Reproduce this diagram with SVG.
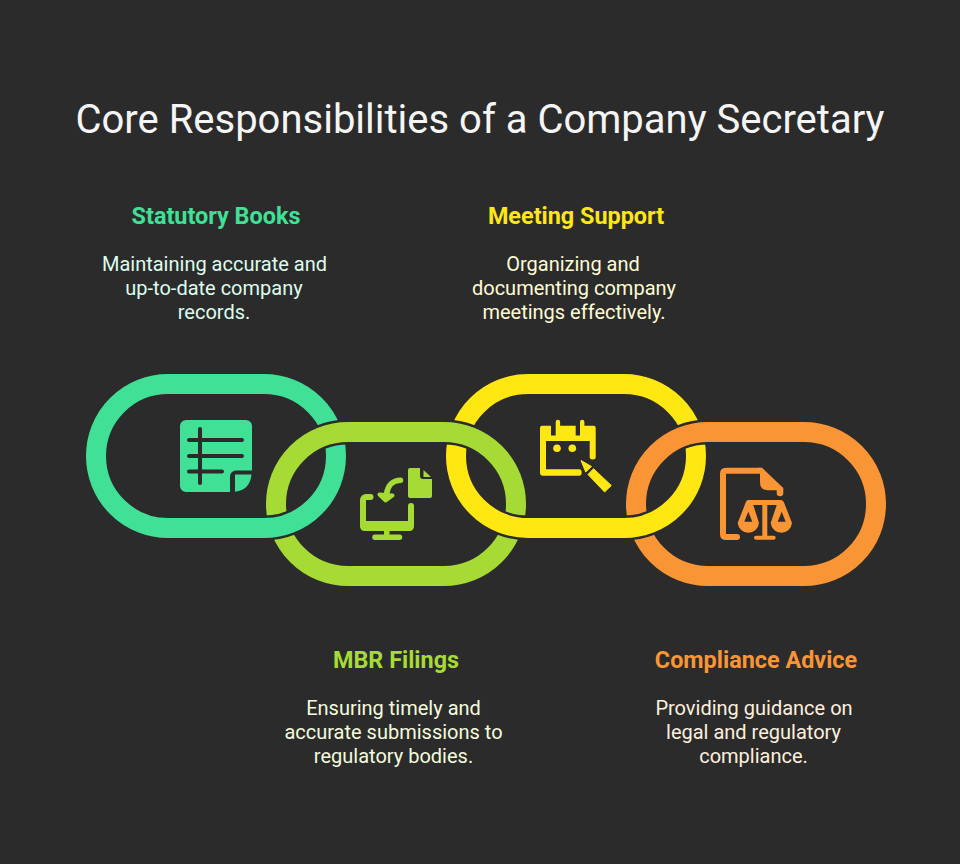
<svg xmlns="http://www.w3.org/2000/svg" width="960" height="864" viewBox="0 0 960 864">
<style>
text{font-family:Roboto,"Liberation Sans",sans-serif;text-anchor:middle}
.title{font-size:40px;font-weight:400;fill:#f5f5f5}
.h{font-size:23.400px;font-weight:700}
.b{font-size:20px;font-weight:400}
.ring{fill:none;stroke-width:20}
.cut{fill:none;stroke:#000;stroke-width:25}
</style>
<defs>
<mask id="maskUpper" maskUnits="userSpaceOnUse" x="0" y="0" width="960" height="864">
<rect width="960" height="864" fill="#fff"/>
<path class="cut" d="M276,504A72,72 0 0 1 348,432H444A72,72 0 0 1 516,504"/>
<path class="cut" d="M636,504A72,72 0 0 1 708,432H804"/>
</mask>
<mask id="maskLower" maskUnits="userSpaceOnUse" x="0" y="0" width="960" height="864">
<rect width="960" height="864" fill="#fff"/>
<path class="cut" d="M336,456A72,72 0 0 1 264,528H200"/>
<path class="cut" d="M456,456A72,72 0 0 0 528,528H624A72,72 0 0 0 696,456"/>
</mask>
</defs>
<rect width="960" height="864" fill="#2b2b2b"/>
<text class="title" x="480" y="133">Core Responsibilities of a Company Secretary</text>
<g id="connectors"></g>
<g id="node-statutory-books">
<rect class="ring" x="96" y="384" width="240" height="144" rx="72" stroke="#41e097" mask="url(#maskUpper)"/>
<path fill="#41e097" d="M186,420H246a6,6 0 0 1 6,6V470.500H236a6,6 0 0 0 -6,6V492H186a6,6 0 0 1 -6,-6V426a6,6 0 0 1 6,-6Z"/>
<path fill="#41e097" d="M235,474.500H251.500Q250,490 235,491.700Z"/>
<path fill="none" stroke="#2b2b2b" stroke-width="4" stroke-linecap="round" d="M189,440H242M189,456H242M189,471.500H222M200,429V483"/>
<text class="h" x="216" y="224" fill="#41e097">Statutory Books</text>
<text class="b" fill="#dffbee"><tspan x="214.500" y="271">Maintaining accurate and</tspan><tspan x="214" y="295">up-to-date company</tspan><tspan x="214" y="319">records.</tspan></text>
</g>
<g id="node-mbr-filings">
<rect class="ring" x="276" y="432" width="240" height="144" rx="72" stroke="#a6db35" mask="url(#maskLower)"/>
<path fill="#a6db35" d="M408,470q0,-2 2,-2H420V476q0,3 3,3H432V496q0,2 -2,2H410q-2,0 -2,-2Z"/>
<path fill="#a6db35" d="M423.500,470L431,477H423.500Z"/>
<path fill="none" stroke="#a6db35" stroke-width="6" stroke-linecap="round" d="M370.500,497H366a3,3 0 0 0 -3,3V525a3,3 0 0 0 3,3H408a3,3 0 0 0 3,-3V506"/>
<path fill="#a6db35" d="M363,521H414V526q0,5 -5,5H365q-5,0 -5,-5ZM384,530H389.500V535H384ZM375,534.500H399.500a2.700,2.700 0 0 1 0,5.500H375a2.700,2.700 0 0 1 0,-5.500Z"/>
<path fill="none" stroke="#a6db35" stroke-width="5.500" stroke-linecap="round" d="M400.500,480.200C394,480.200 388,484 386.500,494"/>
<path fill="#a6db35" stroke="#a6db35" stroke-width="4" stroke-linejoin="round" d="M379.500,494.500L392.500,495.500L385.700,500.500Z"/>
<text class="h" x="396" y="668" fill="#a6db35">MBR Filings</text>
<text class="b" fill="#f4fbdf"><tspan x="393.500" y="715">Ensuring timely and</tspan><tspan x="393.500" y="739">accurate submissions to</tspan><tspan x="393.500" y="763">regulatory bodies.</tspan></text>
</g>
<g id="node-meeting-support">
<rect class="ring" x="456" y="384" width="240" height="144" rx="72" stroke="#ffe711" mask="url(#maskUpper)"/>
<path fill="#ffe711" d="M542,425.700H551V435.500H555.700V422a2.200,2.200 0 0 1 4.400,0V425.700H575.700V435.500H580V422a2.200,2.200 0 0 1 4.400,0V425.700H593.700q2,0 2,2V457q0,2.500 -3,2.500q-3,0 -3,-2.500V441H546V469.300H579q2.700,0 2.700,3.200t-2.700,3.200H543q-3,0 -3,-3V428q0,-2.300 2,-2.300Z"/>
<circle cx="557" cy="448.300" r="3.800" fill="#ffe711"/>
<circle cx="572.300" cy="448.300" r="3.800" fill="#ffe711"/>
<path fill="#ffe711" stroke="#ffe711" stroke-width="1" stroke-linejoin="round" d="M581,460.500L591.500,466.500L585.700,472ZM593.500,468.700L611.300,485.500L604.600,492L588,474.500Z"/>
<text class="h" x="576" y="224" fill="#ffe711">Meeting Support</text>
<text class="b" fill="#fffbd6"><tspan x="573" y="271">Organizing and</tspan><tspan x="574" y="295">documenting company</tspan><tspan x="574" y="319">meetings effectively.</tspan></text>
</g>
<g id="node-compliance-advice">
<rect class="ring" x="636" y="432" width="240" height="144" rx="72" stroke="#f99535" mask="url(#maskLower)"/>
<path fill="none" stroke="#f99535" stroke-width="6" stroke-linecap="round" d="M737,537H726q-3,0 -3,-3V473.700q0,-3 3,-3H760"/>
<path fill="#f99535" d="M759,467.700H762L783.300,488V493a3,3 0 0 1 -6.600,0V490.300H768q-8,0 -8,-8V473Z"/>
<path fill="#f99535" fill-rule="evenodd" d="M748,500H781q2,0 3,2.500L792,523a10.700,10.700 0 0 1 -21.300,0L776.700,505H767.300V535.700H773.700a2,2 0 0 1 0,4H756a2,2 0 0 1 0,-4H762.300V505H753.300L759,523a10.700,10.700 0 0 1 -21.300,0L745.500,503q.7,-3 2.500,-3ZM748.300,511.700L744.300,521.700H752.300ZM781.700,511.700L777.700,521.700H785.700Z"/>
<text class="h" x="756" y="668" fill="#f99535">Compliance Advice</text>
<text class="b" fill="#feefdf"><tspan x="754" y="715">Providing guidance on</tspan><tspan x="753.500" y="739">legal and regulatory</tspan><tspan x="753.500" y="763">compliance.</tspan></text>
</g>
</svg>
